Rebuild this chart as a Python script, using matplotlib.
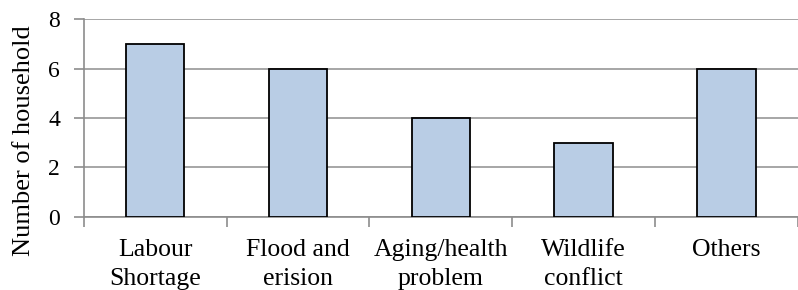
import matplotlib
matplotlib.use("Agg")
import matplotlib.pyplot as plt

# values
categories = ["Labour\nShortage", "Flood and\nerision", "Aging/health\nproblem",
              "Wildlife\nconflict", "Others"]
households = [7, 6, 4, 3, 6]
y_ticks = [0, 2, 4, 6, 8]

plt.rcParams['font.family'] = ['Liberation Serif', 'DejaVu Serif']

fig = plt.figure(figsize=(7.98, 2.9), dpi=100)
ax = fig.add_axes([0.105, 0.252, 0.895, 0.682])

x = list(range(len(categories)))
ax.bar(x, households, width=0.41, color='#b9cde5', edgecolor='black',
       linewidth=1.3, zorder=3)

ax.set_xlim(-0.5, len(categories) - 0.5)
ax.set_ylim(0, 8)
ax.set_yticks(y_ticks)
ax.set_yticklabels([str(v) for v in y_ticks], fontsize=17)
ax.yaxis.grid(True, color='#a6a6a6', linewidth=1.4, zorder=0)

# category labels in the middle, tick marks on the boundaries
ax.set_xticks(x)
ax.set_xticklabels(categories, fontsize=18.5, linespacing=1.4, va='top')
ax.tick_params(axis='x', which='major', length=0, pad=16)
ax.set_xticks([i - 0.5 for i in range(len(categories) + 1)], minor=True)
ax.tick_params(axis='x', which='minor', length=7, width=1.2, color='#8c8c8c', direction='out')
ax.tick_params(axis='y', length=7, width=1.2, color='#8c8c8c', pad=10)

for s in ['top', 'right']:
    ax.spines[s].set_visible(False)
ax.spines['left'].set_color('#8c8c8c')
ax.spines['bottom'].set_color('#8c8c8c')
ax.spines['left'].set_linewidth(1.2)
ax.spines['bottom'].set_linewidth(1.2)

# axis title sits a bit lower than the middle of the axis
fig.text(24 / 798, 1 - 141 / 290, "Number of household", fontsize=19,
         rotation=90, ha='center', va='center')

fig.savefig("out.png", dpi=100)
